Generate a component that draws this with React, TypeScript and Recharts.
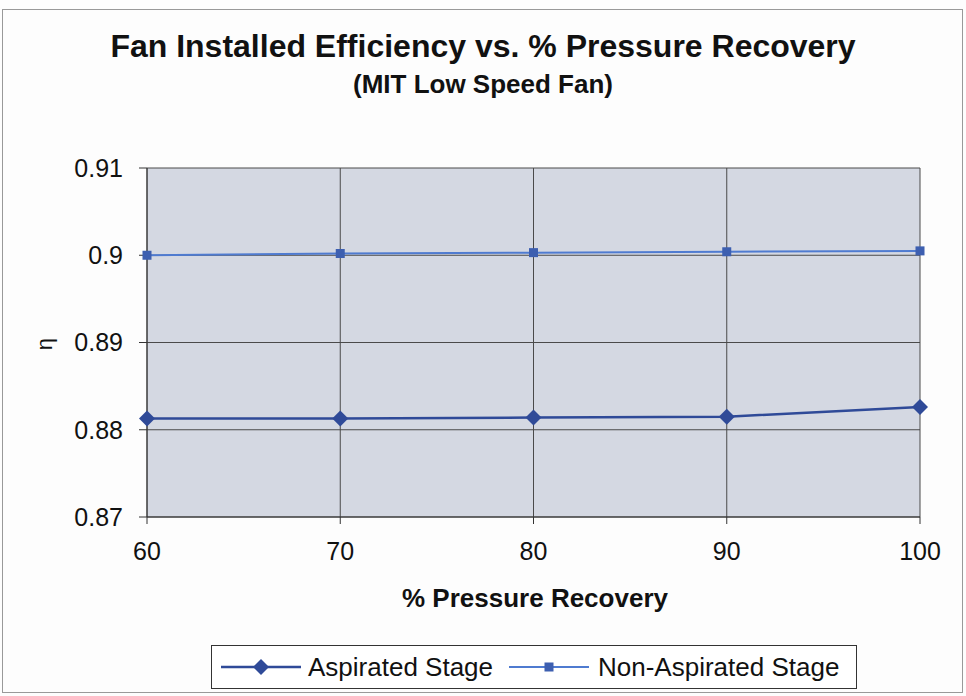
import React from 'react'
import { LineChart, Line, XAxis, YAxis, CartesianGrid, Legend } from 'recharts'

const pressureRecovery = [60, 70, 80, 90, 100]
const aspirated = [0.8813, 0.8813, 0.8814, 0.8815, 0.8826]
const nonAspirated = [0.9, 0.9002, 0.9003, 0.9004, 0.9005]
const xTicks = [60, 70, 80, 90, 100]
const yTicks = [0.87, 0.88, 0.89, 0.9, 0.91]

const FONT = '"Liberation Sans", Arial, sans-serif'
const DARK = '#2f4a98'
const LIGHT = '#4f7bd0'

const data = pressureRecovery.map((x, i) => ({
  x,
  aspirated: aspirated[i],
  nonAspirated: nonAspirated[i],
}))

function Diamond({ cx, cy, size = 8, color = DARK }: any) {
  if (cx == null || cy == null) return null
  return (
    <path
      d={`M${cx},${cy - size} L${cx + size},${cy} L${cx},${cy + size} L${cx - size},${cy} Z`}
      fill={color}
    />
  )
}

function Square({ cx, cy, size = 4.5, color = '#3d5fb0' }: any) {
  if (cx == null || cy == null) return null
  return <rect x={cx - size} y={cy - size} width={size * 2} height={size * 2} fill={color} />
}

function LegendBox() {
  return (
    <svg width={646} height={44} style={{ display: 'block' }}>
      <rect x={0.5} y={0.5} width={645} height={43} fill="#fff" stroke="#333" />
      <line x1={10} y1={22} x2={90} y2={22} stroke={DARK} strokeWidth={2.5} />
      <Diamond cx={50} cy={22} size={8} />
      <text x={97} y={31} fontFamily={FONT} fontSize={26} fill="#111">Aspirated Stage</text>
      <line x1={298} y1={22} x2={378} y2={22} stroke={LIGHT} strokeWidth={2} />
      <Square cx={338} cy={22} size={4.5} />
      <text x={387} y={31} fontFamily={FONT} fontSize={26} fill="#111">Non-Aspirated Stage</text>
    </svg>
  )
}

export default function App() {
  return (
    <div style={{ position: 'absolute', left: 0, top: 0, width: 966, height: 696, background: '#fdfdfd', fontFamily: FONT }}>
      <LineChart
        width={966}
        height={696}
        data={data}
        margin={{ top: 168, right: 46, bottom: 95, left: 0 }}
      >
        <CartesianGrid stroke="#4a4a4a" fill="#d4d8e2" />
        <XAxis
          dataKey="x"
          type="number"
          domain={[60, 100]}
          ticks={xTicks}
          height={40}
          stroke="#333"
          tickSize={7}
          tickMargin={18}
          tick={{ fontSize: 25, fill: '#111', fontFamily: FONT }}
        />
        <YAxis
          type="number"
          domain={[0.87, 0.91]}
          ticks={yTicks}
          width={147}
          stroke="#333"
          tickSize={8}
          tickMargin={16}
          tick={{ fontSize: 25, fill: '#111', fontFamily: FONT }}
        />
        <Line
          dataKey="aspirated"
          name="Aspirated Stage"
          stroke={DARK}
          strokeWidth={2.5}
          dot={(p: any) => <Diamond key={p.index} cx={p.cx} cy={p.cy} size={8} />}
          isAnimationActive={false}
        />
        <Line
          dataKey="nonAspirated"
          name="Non-Aspirated Stage"
          stroke={LIGHT}
          strokeWidth={2}
          dot={(p: any) => <Square key={p.index} cx={p.cx} cy={p.cy} size={4.5} />}
          isAnimationActive={false}
        />
        <Legend
          content={() => <LegendBox />}
          wrapperStyle={{ left: 211, top: 645, width: 646, height: 44, bottom: 'auto' }}
        />
      </LineChart>
      <svg width={966} height={696} style={{ position: 'absolute', left: 0, top: 0, pointerEvents: 'none' }}>
        <rect x={2.5} y={9.5} width={960} height={683} fill="none" stroke="#999" />
        <text x={483} y={57} textAnchor="middle" fontFamily={FONT} fontWeight="bold" fontSize={32} fill="#111">
          Fan Installed Efficiency vs. % Pressure Recovery
        </text>
        <text x={483} y={93} textAnchor="middle" fontFamily={FONT} fontWeight="bold" fontSize={26} fill="#111">
          (MIT Low Speed Fan)
        </text>
        <text x={535} y={607} textAnchor="middle" fontFamily={FONT} fontWeight="bold" fontSize={26} fill="#111">
          % Pressure Recovery
        </text>
        <text x={0} y={0} transform="translate(52,344) rotate(-90)" textAnchor="middle" fontFamily={FONT} fontSize={22} fill="#111">
          η
        </text>
      </svg>
    </div>
  )
}
